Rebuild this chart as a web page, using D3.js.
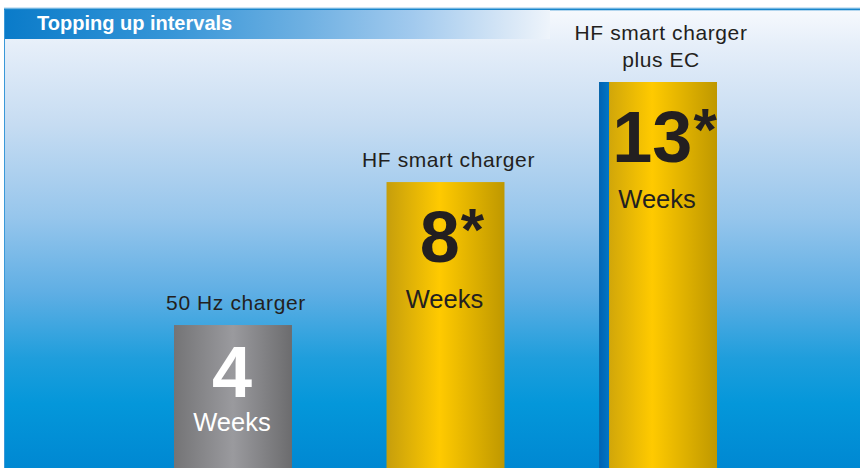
<!DOCTYPE html>
<html>
<head>
<meta charset="utf-8">
<script src="https://cdn.jsdelivr.net/npm/d3@7"></script>
<style>
  html, body { margin: 0; padding: 0; background: #fff; }
  svg { display: block; font-family: "Liberation Sans", Arial, sans-serif; }
</style>
</head>
<body>
<div id="chart"></div>
<script>
// chart data
var chartTitle = "Topping up intervals";
var categories = ["50 Hz charger", "HF smart charger", "HF smart charger plus EC"];
var labelLines = [["50 Hz charger"], ["HF smart charger"], ["HF smart charger", "plus EC"]];
var weeks = [4, 8, 13];
var starred = [false, true, true];
var unitLabel = "Weeks";

function drawChart() {
    var width = 860, height = 468;
    var panelLeft = 4, panelTop = 10;

    var svg = d3.select("#chart")
        .append("svg")
        .attr("width", width)
        .attr("height", height);

    var defs = svg.append("defs");

    function gradient(id, stops, vertical) {
        var g = defs.append("linearGradient")
            .attr("id", id)
            .attr("x1", 0).attr("y1", 0)
            .attr("x2", vertical ? 0 : 1).attr("y2", vertical ? 1 : 0);
        stops.forEach(s => g.append("stop").attr("offset", s[0]).attr("stop-color", s[1]));
    }

    gradient("panelGrad", [
        [0, "#f6f9fd"], [0.08, "#e5eef9"], [0.25, "#c6dcf2"], [0.45, "#97c6ec"],
        [0.62, "#5eaee4"], [0.76, "#1f9edc"], [0.86, "#0497da"], [1, "#0088d2"]
    ], true);
    gradient("titleGrad", [
        [0, "#0a7bc9"], [0.3, "#3595d7"], [0.55, "#6eb0e2"], [0.75, "#a2caee"],
        [0.92, "#d6e6f6"], [1, "#eef4fb"]
    ], false);
    gradient("grayGrad", [
        [0, "#747476"], [0.5, "#9a9a9e"], [1, "#6c6c6e"]
    ], false);
    gradient("goldGrad", [
        [0, "#c69e0c"], [0.45, "#ffca00"], [1, "#bf9800"]
    ], false);
    gradient("stripeGrad", [
        [0, "#0062b2"], [1, "#0076c6"]
    ], false);

    // background panel
    svg.append("rect")
        .attr("x", panelLeft).attr("y", panelTop)
        .attr("width", width - panelLeft).attr("height", height - panelTop)
        .attr("fill", "url(#panelGrad)");

    // top rule
    svg.append("rect").attr("x", panelLeft).attr("y", 7.5).attr("width", width).attr("height", 1).attr("fill", "#a4cdec");
    svg.append("rect").attr("x", panelLeft).attr("y", 8.5).attr("width", width).attr("height", 1.8).attr("fill", "#1886cc");

    // title bar
    svg.append("rect")
        .attr("x", panelLeft).attr("y", panelTop)
        .attr("width", 546).attr("height", 29)
        .attr("fill", "url(#titleGrad)");
    svg.append("rect")
        .attr("x", panelLeft).attr("y", panelTop)
        .attr("width", 1).attr("height", height - panelTop)
        .attr("fill", "#3a98d8");

    svg.append("text")
        .attr("x", 37).attr("y", 30)
        .attr("fill", "#fff")
        .attr("font-weight", "bold")
        .attr("font-size", "20px")
        .text(chartTitle);

    var x = d3.scaleBand()
        .domain(categories)
        .range([174, 717])
        .paddingInner(0.445)
        .paddingOuter(0);

    // bars are capped at the top of the panel
    var y = d3.scaleLinear()
        .domain([0, 10.8])
        .range([height, 82])
        .clamp(true);

    var data = categories.map((c, i) => ({
        category: c, lines: labelLines[i], value: weeks[i], star: starred[i]
    }));

    var stripeW = 10;

    var bar = svg.selectAll(".bar")
        .data(data)
        .enter().append("g")
        .attr("class", "bar");

    bar.append("rect")
        .attr("x", d => x(d.category))
        .attr("y", d => y(d.value))
        .attr("width", x.bandwidth())
        .attr("height", d => height - y(d.value))
        .attr("fill", (d, i) => i === 0 ? "url(#grayGrad)" : "url(#goldGrad)");

    // blue EC stripe
    bar.filter(d => /EC$/.test(d.category))
        .append("rect")
        .attr("x", d => x(d.category))
        .attr("y", d => y(d.value))
        .attr("width", stripeW)
        .attr("height", d => height - y(d.value))
        .attr("fill", "url(#stripeGrad)");

    // category label above bar
    bar.append("text")
        .attr("text-anchor", "middle")
        .attr("font-size", "21px")
        .attr("letter-spacing", "0.6px")
        .attr("fill", "#231f20")
        .each(function (d) {
            var t = d3.select(this);
            var cx = x(d.category) + x.bandwidth() / 2 + 3;
            var last = y(d.value) - 15;
            d.lines.forEach((line, j) => {
                t.append("tspan")
                    .attr("x", cx)
                    .attr("y", last - (d.lines.length - 1 - j) * 26.7)
                    .text(line);
            });
        });

    // big number
    bar.append("text")
        .attr("text-anchor", "middle")
        .attr("font-weight", "bold")
        .attr("font-size", "72px")
        .attr("fill", (d, i) => i === 0 ? "#fff" : "#231f20")
        .attr("x", d => x(d.category) + x.bandwidth() / 2 + (d.star ? 6.5 : -1))
        .attr("y", d => y(d.value) + Math.min(80, (height - y(d.value)) * 0.5))
        .each(function (d) {
            var t = d3.select(this);
            t.append("tspan").text(d.value);
            if (d.star) {
                t.append("tspan")
                    .attr("font-size", "60px")
                    .attr("dx", 1)
                    .attr("dy", -12)
                    .text("*");
            }
        });

    // unit label
    bar.append("text")
        .attr("text-anchor", "middle")
        .attr("font-size", "25.5px")
        .attr("fill", (d, i) => i === 0 ? "#fff" : "#231f20")
        .attr("x", d => x(d.category) + x.bandwidth() / 2 - 1)
        .attr("y", d => {
            var h = height - y(d.value);
            return y(d.value) + Math.min(80, h * 0.5) + Math.min(46, h * 0.24);
        })
        .text(unitLabel);
}

window.onload = drawChart;
</script>
</body>
</html>
